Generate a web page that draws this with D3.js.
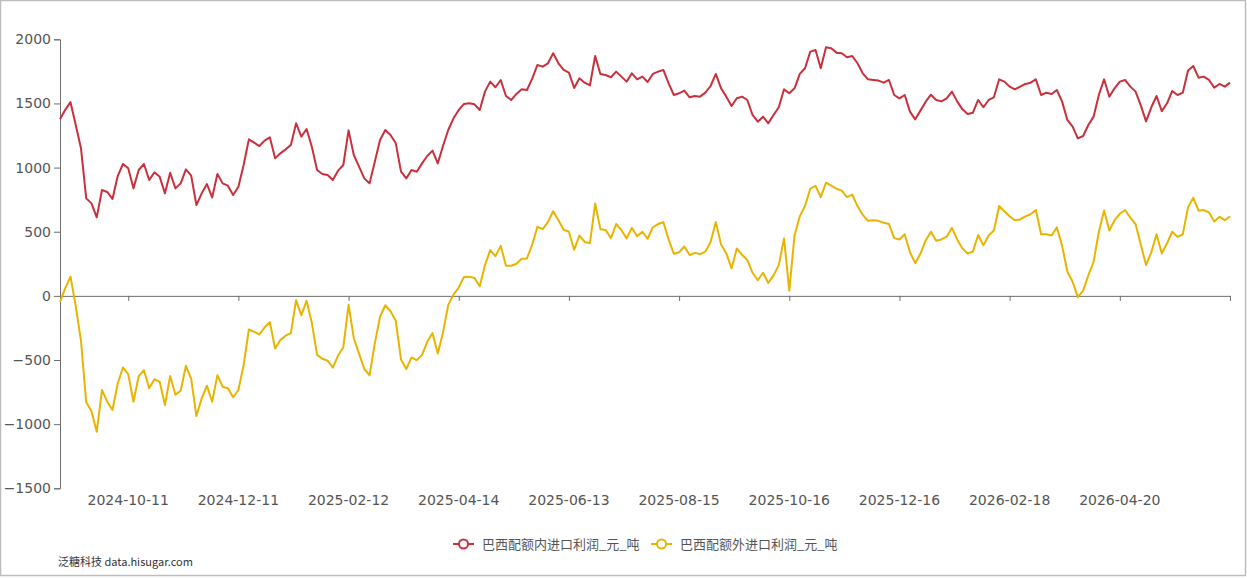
<!DOCTYPE html>
<html>
<head>
<meta charset="utf-8">
<script src="https://cdn.jsdelivr.net/npm/d3@7"></script>
<style>
  body { margin: 0; background: #fff; }
  svg { display: block; }
</style>
</head>
<body>
<div id="chart"></div>
<script>
// data: sampled every other trading day
var domestic = [1376,1450,1510,1332,1150,760,721,612,825,810,755,934,1028,994,838,981,1028,903,963,929,
  799,960,838,877,986,937,708,799,872,767,950,877,859,786,851,1020,1220,1194,1168,1210,
  1236,1072,1111,1142,1176,1345,1241,1301,1163,981,950,942,903,976,1020,1290,1098,1007,916,877,
  1046,1215,1293,1254,1189,968,916,981,968,1033,1090,1132,1033,1168,1293,1384,1449,1496,1501,1493,
  1449,1592,1670,1626,1683,1558,1527,1574,1610,1605,1693,1800,1787,1813,1891,1813,1761,1740,1620,1696,
  1662,1640,1870,1730,1722,1704,1748,1709,1670,1735,1688,1709,1667,1730,1748,1761,1657,1566,1579,1600,
  1548,1558,1553,1584,1636,1730,1618,1553,1480,1540,1553,1527,1410,1358,1397,1345,1410,1470,1610,1579,
  1618,1730,1774,1904,1917,1774,1938,1930,1896,1891,1860,1870,1813,1735,1688,1683,1678,1662,1683,1566,
  1540,1566,1436,1376,1444,1514,1568,1527,1516,1540,1592,1516,1454,1418,1428,1527,1470,1527,1548,1688,
  1670,1631,1610,1631,1652,1662,1688,1566,1584,1574,1605,1514,1371,1319,1228,1246,1332,1397,1566,1688,
  1553,1618,1670,1683,1631,1592,1485,1360,1470,1558,1440,1501,1597,1566,1584,1756,1792,1701,1709,1683,
  1623,1652,1631,1662];

var outside = [-47,60,150,-80,-350,-830,-900,-1060,-734,-825,-890,-683,-558,-610,-825,-625,-580,-720,-650,-670,
  -851,-625,-770,-740,-545,-645,-937,-800,-700,-825,-618,-708,-720,-790,-734,-540,-262,-280,-300,-245,
  -205,-410,-345,-310,-290,-34,-150,-39,-210,-460,-490,-505,-560,-465,-400,-70,-330,-450,-570,-620,
  -370,-163,-73,-120,-195,-496,-570,-480,-501,-460,-358,-290,-450,-285,-70,10,65,148,150,140,
  75,240,357,310,390,235,235,250,290,292,400,539,520,575,660,590,515,500,360,470,
  420,410,720,520,513,450,560,513,448,530,465,500,445,535,560,575,440,328,340,385,
  318,335,326,345,420,575,400,331,214,370,320,280,180,122,180,100,160,240,448,40,
  470,620,700,835,858,770,882,860,835,820,770,790,700,632,585,590,585,570,560,450,
  440,480,340,255,330,432,500,430,440,461,530,440,370,330,345,474,395,470,510,700,
  660,620,590,596,620,636,670,480,480,470,534,390,190,110,-10,40,160,266,500,665,
  510,590,640,669,610,560,400,240,340,480,330,410,500,460,480,690,765,664,669,650,
  580,617,590,620];

var tickLabels = ["2024-10-11","2024-12-11","2025-02-12","2025-04-14","2025-06-13",
  "2025-08-15","2025-10-16","2025-12-16","2026-02-18","2026-04-20"];
var tickIndex = [13,34,55,76,97,118,139,160,181,202];
var yTicks = [-1500,-1000,-500,0,500,1000,1500,2000];
var seriesNames = ["巴西配额内进口利润_元_吨","巴西配额外进口利润_元_吨"];
var colors = ["#c9303c","#e8b400"];

var width = 1247, height = 578;
var svg = d3.select("#chart").append("svg").attr("width", width).attr("height", height);

// frame
svg.append("rect").attr("x", 0.5).attr("y", 0.5).attr("width", 1245).attr("height", 575)
  .attr("fill", "#fff").attr("stroke", "#bdbdbd").attr("stroke-width", 1.5);

var x = d3.scaleLinear().domain([0, domestic.length - 1]).range([60, 1230]);
var y = d3.scaleLinear().domain([-1500, 2000]).range([488.3, 39.3]);

// y axis
var yAxis = svg.append("g").attr("transform", "translate(60,0)")
  .call(d3.axisLeft(y).tickValues(yTicks).tickSize(6).tickPadding(3).tickFormat(d3.format("d")));
yAxis.select(".domain").attr("stroke", "#6e6e6e");
yAxis.selectAll(".tick line").attr("stroke", "#6e6e6e");
yAxis.selectAll("text").attr("fill", "#555").style("font-family", "DejaVu Sans").style("font-size", "14px");

// x axis on zero line
var xAxis = svg.append("g").attr("transform", "translate(0," + y(0) + ")")
  .call(d3.axisBottom(x).tickValues(tickIndex.concat([domestic.length - 1])).tickSize(5).tickFormat(""));
xAxis.select(".domain").attr("stroke", "#6e6e6e").attr("d", "M60.5,0.5H1230.5");
xAxis.selectAll(".tick line").attr("stroke", "#6e6e6e");

svg.append("g").selectAll("text").data(tickLabels).join("text")
  .attr("x", function(d, i) { return x(tickIndex[i]); })
  .attr("y", 505)
  .attr("text-anchor", "middle")
  .attr("fill", "#555")
  .style("font-family", "DejaVu Sans")
  .style("font-size", "14px")
  .text(function(d) { return d; });

// lines
var line = d3.line().x(function(d, i) { return x(i); }).y(function(d) { return y(d); });
[domestic, outside].forEach(function(s, k) {
  svg.append("path").datum(s)
    .attr("d", line)
    .attr("fill", "none")
    .attr("stroke", colors[k])
    .attr("stroke-width", 2)
    .attr("stroke-linejoin", "round");
});

// legend
var legendX = [453, 651];
seriesNames.forEach(function(name, k) {
  var g = svg.append("g").attr("transform", "translate(" + legendX[k] + ",544)");
  g.append("line").attr("x1", 0).attr("x2", 21).attr("y1", 0).attr("y2", 0)
    .attr("stroke", colors[k]).attr("stroke-width", 2);
  g.append("circle").attr("cx", 10.5).attr("cy", 0).attr("r", 4.5)
    .attr("fill", "#fff").attr("stroke", colors[k]).attr("stroke-width", 2);
  g.append("text").attr("x", 29).attr("y", 4.5)
    .attr("fill", "#555")
    .style("font-family", "Noto Sans CJK SC")
    .style("font-size", "13px")
    .text(name);
});

// footer
svg.append("text").attr("x", 58).attr("y", 566)
  .attr("fill", "#333")
  .style("font-family", "Noto Sans CJK SC")
  .style("font-size", "11px")
  .text("泛糖科技 data.hisugar.com");
</script>
</body>
</html>
